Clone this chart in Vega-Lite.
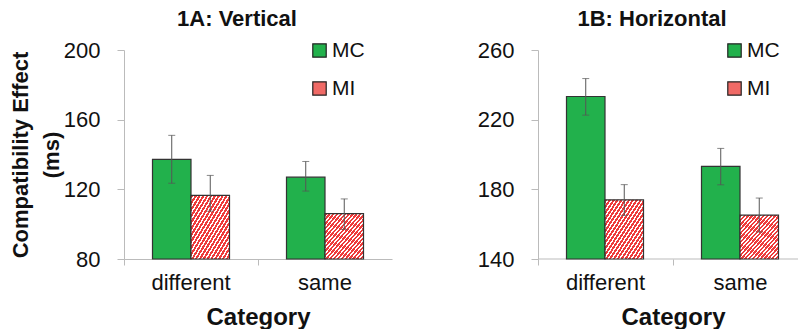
{
  "$schema": "https://vega.github.io/schema/vega-lite/v6.json",
  "config": {
    "font": "Liberation Sans",
    "view": {"stroke": null},
    "axis": {"grid": false, "domainColor": "#bbbbbb", "tickColor": "#bbbbbb", "labelColor": "#111111", "titleColor": "#111111"},
    "legend": {"padding": 0}
  },
  "padding": {"left": 9, "top": 8, "right": 0, "bottom": 0},
  "spacing": 85,
  "resolve": {"legend": {"fill": "independent"}, "scale": {"y": "independent", "x": "independent"}},
  "hconcat": [
    {
      "width": 268,
      "height": 209,
      "title": {"text": "1A: Vertical", "fontSize": 22, "fontWeight": "bold", "color": "#111111", "dx": -21, "offset": 8},
      "data": {"values": [
        {"category": "different", "cond": "MC", "value": 137.2, "lo": 123.5, "hi": 151},
        {"category": "different", "cond": "MI", "value": 116.5, "lo": 107.5, "hi": 128},
        {"category": "same", "cond": "MC", "value": 127, "lo": 119, "hi": 136},
        {"category": "same", "cond": "MI", "value": 106, "lo": 97, "hi": 114.5}
      ]},
      "layer": [
        {
          "mark": {"type": "bar", "stroke": "#333333", "strokeWidth": 1.2},
          "encoding": {
            "x": {"field": "category", "type": "nominal", "sort": ["different", "same"], "scale": {"paddingInner": 0, "paddingOuter": 0},
              "axis": {"title": "Category", "titleFontSize": 24, "titleFontWeight": "bold", "labelFontSize": 22, "labelAngle": 0, "bandPosition": 0, "tickSize": 6, "labelPadding": 7, "titlePadding": 12}},
            "xOffset": {"field": "cond", "type": "nominal", "sort": ["MC", "MI"], "scale": {"paddingInner": 0, "paddingOuter": 0.74}},
            "y": {"field": "value", "type": "quantitative", "scale": {"domain": [80, 200], "zero": false},
              "axis": {"values": [80, 120, 160, 200], "title": ["Compatibility Effect", "(ms)"], "titleFontSize": 22, "titleFontWeight": "bold", "titleLineHeight": 31, "labelFontSize": 22, "tickSize": 7, "labelPadding": 17, "titlePadding": 0}},
            "y2": {"datum": 80},
            "fill": {"field": "cond", "type": "nominal", "sort": ["MC", "MI"],
              "scale": {"domain": ["MC", "MI"], "range": ["#22b14c", "#f06a66"]},
              "condition": {"test": "datum.cond === 'MI'", "value": {"gradient": "linear", "x1": 0, "y1": 0, "x2": 1, "y2": 1, "stops": [
                {"offset": 0, "color": "#ee3b3b"}, {"offset": 0.03, "color": "#ee3b3b"}, {"offset": 0.03, "color": "#ffffff"}, {"offset": 0.05, "color": "#ffffff"},
                {"offset": 0.05, "color": "#ee3b3b"}, {"offset": 0.08, "color": "#ee3b3b"}, {"offset": 0.08, "color": "#ffffff"}, {"offset": 0.1, "color": "#ffffff"},
                {"offset": 0.1, "color": "#ee3b3b"}, {"offset": 0.13, "color": "#ee3b3b"}, {"offset": 0.13, "color": "#ffffff"}, {"offset": 0.15, "color": "#ffffff"},
                {"offset": 0.15, "color": "#ee3b3b"}, {"offset": 0.18, "color": "#ee3b3b"}, {"offset": 0.18, "color": "#ffffff"}, {"offset": 0.2, "color": "#ffffff"},
                {"offset": 0.2, "color": "#ee3b3b"}, {"offset": 0.23, "color": "#ee3b3b"}, {"offset": 0.23, "color": "#ffffff"}, {"offset": 0.25, "color": "#ffffff"},
                {"offset": 0.25, "color": "#ee3b3b"}, {"offset": 0.28, "color": "#ee3b3b"}, {"offset": 0.28, "color": "#ffffff"}, {"offset": 0.3, "color": "#ffffff"},
                {"offset": 0.3, "color": "#ee3b3b"}, {"offset": 0.33, "color": "#ee3b3b"}, {"offset": 0.33, "color": "#ffffff"}, {"offset": 0.35, "color": "#ffffff"},
                {"offset": 0.35, "color": "#ee3b3b"}, {"offset": 0.38, "color": "#ee3b3b"}, {"offset": 0.38, "color": "#ffffff"}, {"offset": 0.4, "color": "#ffffff"},
                {"offset": 0.4, "color": "#ee3b3b"}, {"offset": 0.43, "color": "#ee3b3b"}, {"offset": 0.43, "color": "#ffffff"}, {"offset": 0.45, "color": "#ffffff"},
                {"offset": 0.45, "color": "#ee3b3b"}, {"offset": 0.48, "color": "#ee3b3b"}, {"offset": 0.48, "color": "#ffffff"}, {"offset": 0.5, "color": "#ffffff"},
                {"offset": 0.5, "color": "#ee3b3b"}, {"offset": 0.53, "color": "#ee3b3b"}, {"offset": 0.53, "color": "#ffffff"}, {"offset": 0.55, "color": "#ffffff"},
                {"offset": 0.55, "color": "#ee3b3b"}, {"offset": 0.58, "color": "#ee3b3b"}, {"offset": 0.58, "color": "#ffffff"}, {"offset": 0.6, "color": "#ffffff"},
                {"offset": 0.6, "color": "#ee3b3b"}, {"offset": 0.63, "color": "#ee3b3b"}, {"offset": 0.63, "color": "#ffffff"}, {"offset": 0.65, "color": "#ffffff"},
                {"offset": 0.65, "color": "#ee3b3b"}, {"offset": 0.68, "color": "#ee3b3b"}, {"offset": 0.68, "color": "#ffffff"}, {"offset": 0.7, "color": "#ffffff"},
                {"offset": 0.7, "color": "#ee3b3b"}, {"offset": 0.73, "color": "#ee3b3b"}, {"offset": 0.73, "color": "#ffffff"}, {"offset": 0.75, "color": "#ffffff"},
                {"offset": 0.75, "color": "#ee3b3b"}, {"offset": 0.78, "color": "#ee3b3b"}, {"offset": 0.78, "color": "#ffffff"}, {"offset": 0.8, "color": "#ffffff"},
                {"offset": 0.8, "color": "#ee3b3b"}, {"offset": 0.83, "color": "#ee3b3b"}, {"offset": 0.83, "color": "#ffffff"}, {"offset": 0.85, "color": "#ffffff"},
                {"offset": 0.85, "color": "#ee3b3b"}, {"offset": 0.88, "color": "#ee3b3b"}, {"offset": 0.88, "color": "#ffffff"}, {"offset": 0.9, "color": "#ffffff"},
                {"offset": 0.9, "color": "#ee3b3b"}, {"offset": 0.93, "color": "#ee3b3b"}, {"offset": 0.93, "color": "#ffffff"}, {"offset": 0.95, "color": "#ffffff"},
                {"offset": 0.95, "color": "#ee3b3b"}, {"offset": 0.98, "color": "#ee3b3b"}, {"offset": 0.98, "color": "#ffffff"}, {"offset": 1, "color": "#ffffff"}
              ]}},
              "legend": {"title": null, "orient": "none", "legendX": 185, "legendY": -10, "symbolType": "square", "symbolSize": 180, "symbolStrokeColor": "#222222", "symbolStrokeWidth": 1.2, "symbolOpacity": 1, "labelFontSize": 21, "labelColor": "#111111", "rowPadding": 16, "labelOffset": 2}
            }
          }
        },
        {
          "mark": {"type": "rule", "color": "#555555", "strokeWidth": 1},
          "encoding": {
            "x": {"field": "category", "type": "nominal", "sort": ["different", "same"]},
            "xOffset": {"field": "cond", "type": "nominal", "sort": ["MC", "MI"]},
            "y": {"field": "lo", "type": "quantitative", "scale": {"domain": [80, 200], "zero": false}},
            "y2": {"field": "hi"}
          }
        },
        {
          "mark": {"type": "tick", "color": "#555555", "size": 7, "thickness": 1},
          "encoding": {
            "x": {"field": "category", "type": "nominal", "sort": ["different", "same"]},
            "xOffset": {"field": "cond", "type": "nominal", "sort": ["MC", "MI"]},
            "y": {"field": "lo", "type": "quantitative", "scale": {"domain": [80, 200], "zero": false}}
          }
        },
        {
          "mark": {"type": "tick", "color": "#555555", "size": 7, "thickness": 1},
          "encoding": {
            "x": {"field": "category", "type": "nominal", "sort": ["different", "same"]},
            "xOffset": {"field": "cond", "type": "nominal", "sort": ["MC", "MI"]},
            "y": {"field": "hi", "type": "quantitative", "scale": {"domain": [80, 200], "zero": false}}
          }
        }
      ]
    },
    {
      "width": 260,
      "height": 209,
      "title": {"text": "1B: Horizontal", "fontSize": 22, "fontWeight": "bold", "color": "#111111", "dx": -16, "offset": 8},
      "data": {"values": [
        {"category": "different", "cond": "MC", "value": 233.3, "lo": 222.6, "hi": 243.6},
        {"category": "different", "cond": "MI", "value": 174, "lo": 165, "hi": 182.7},
        {"category": "same", "cond": "MC", "value": 193.2, "lo": 182.6, "hi": 203.5},
        {"category": "same", "cond": "MI", "value": 165.2, "lo": 155.5, "hi": 175}
      ]},
      "layer": [
        {
          "data": {"values": [{"base": 140}]},
          "mark": {"type": "rule", "color": "#bbbbbb", "strokeWidth": 1},
          "encoding": {
            "y": {"field": "base", "type": "quantitative", "scale": {"domain": [140, 260], "zero": false}}
          }
        },
        {
          "mark": {"type": "bar", "stroke": "#333333", "strokeWidth": 1.2},
          "encoding": {
            "x": {"field": "category", "type": "nominal", "sort": ["different", "same"], "scale": {"paddingInner": 0, "paddingOuter": 0, "range": [0, 270]},
              "axis": {"title": "Category", "titleFontSize": 24, "titleFontWeight": "bold", "labelFontSize": 22, "labelAngle": 0, "bandPosition": 0, "tickSize": 6, "labelPadding": 7, "titlePadding": 12, "domain": false}},
            "xOffset": {"field": "cond", "type": "nominal", "sort": ["MC", "MI"], "scale": {"paddingInner": 0, "paddingOuter": 0.74}},
            "y": {"field": "value", "type": "quantitative", "scale": {"domain": [140, 260], "zero": false},
              "axis": {"values": [140, 180, 220, 260], "title": null, "labelFontSize": 22, "tickSize": 7, "labelPadding": 17}},
            "y2": {"datum": 140},
            "fill": {"field": "cond", "type": "nominal", "sort": ["MC", "MI"],
              "scale": {"domain": ["MC", "MI"], "range": ["#22b14c", "#f06a66"]},
              "condition": {"test": "datum.cond === 'MI'", "value": {"gradient": "linear", "x1": 0, "y1": 0, "x2": 1, "y2": 1, "stops": [
                {"offset": 0, "color": "#ee3b3b"}, {"offset": 0.03, "color": "#ee3b3b"}, {"offset": 0.03, "color": "#ffffff"}, {"offset": 0.05, "color": "#ffffff"},
                {"offset": 0.05, "color": "#ee3b3b"}, {"offset": 0.08, "color": "#ee3b3b"}, {"offset": 0.08, "color": "#ffffff"}, {"offset": 0.1, "color": "#ffffff"},
                {"offset": 0.1, "color": "#ee3b3b"}, {"offset": 0.13, "color": "#ee3b3b"}, {"offset": 0.13, "color": "#ffffff"}, {"offset": 0.15, "color": "#ffffff"},
                {"offset": 0.15, "color": "#ee3b3b"}, {"offset": 0.18, "color": "#ee3b3b"}, {"offset": 0.18, "color": "#ffffff"}, {"offset": 0.2, "color": "#ffffff"},
                {"offset": 0.2, "color": "#ee3b3b"}, {"offset": 0.23, "color": "#ee3b3b"}, {"offset": 0.23, "color": "#ffffff"}, {"offset": 0.25, "color": "#ffffff"},
                {"offset": 0.25, "color": "#ee3b3b"}, {"offset": 0.28, "color": "#ee3b3b"}, {"offset": 0.28, "color": "#ffffff"}, {"offset": 0.3, "color": "#ffffff"},
                {"offset": 0.3, "color": "#ee3b3b"}, {"offset": 0.33, "color": "#ee3b3b"}, {"offset": 0.33, "color": "#ffffff"}, {"offset": 0.35, "color": "#ffffff"},
                {"offset": 0.35, "color": "#ee3b3b"}, {"offset": 0.38, "color": "#ee3b3b"}, {"offset": 0.38, "color": "#ffffff"}, {"offset": 0.4, "color": "#ffffff"},
                {"offset": 0.4, "color": "#ee3b3b"}, {"offset": 0.43, "color": "#ee3b3b"}, {"offset": 0.43, "color": "#ffffff"}, {"offset": 0.45, "color": "#ffffff"},
                {"offset": 0.45, "color": "#ee3b3b"}, {"offset": 0.48, "color": "#ee3b3b"}, {"offset": 0.48, "color": "#ffffff"}, {"offset": 0.5, "color": "#ffffff"},
                {"offset": 0.5, "color": "#ee3b3b"}, {"offset": 0.53, "color": "#ee3b3b"}, {"offset": 0.53, "color": "#ffffff"}, {"offset": 0.55, "color": "#ffffff"},
                {"offset": 0.55, "color": "#ee3b3b"}, {"offset": 0.58, "color": "#ee3b3b"}, {"offset": 0.58, "color": "#ffffff"}, {"offset": 0.6, "color": "#ffffff"},
                {"offset": 0.6, "color": "#ee3b3b"}, {"offset": 0.63, "color": "#ee3b3b"}, {"offset": 0.63, "color": "#ffffff"}, {"offset": 0.65, "color": "#ffffff"},
                {"offset": 0.65, "color": "#ee3b3b"}, {"offset": 0.68, "color": "#ee3b3b"}, {"offset": 0.68, "color": "#ffffff"}, {"offset": 0.7, "color": "#ffffff"},
                {"offset": 0.7, "color": "#ee3b3b"}, {"offset": 0.73, "color": "#ee3b3b"}, {"offset": 0.73, "color": "#ffffff"}, {"offset": 0.75, "color": "#ffffff"},
                {"offset": 0.75, "color": "#ee3b3b"}, {"offset": 0.78, "color": "#ee3b3b"}, {"offset": 0.78, "color": "#ffffff"}, {"offset": 0.8, "color": "#ffffff"},
                {"offset": 0.8, "color": "#ee3b3b"}, {"offset": 0.83, "color": "#ee3b3b"}, {"offset": 0.83, "color": "#ffffff"}, {"offset": 0.85, "color": "#ffffff"},
                {"offset": 0.85, "color": "#ee3b3b"}, {"offset": 0.88, "color": "#ee3b3b"}, {"offset": 0.88, "color": "#ffffff"}, {"offset": 0.9, "color": "#ffffff"},
                {"offset": 0.9, "color": "#ee3b3b"}, {"offset": 0.93, "color": "#ee3b3b"}, {"offset": 0.93, "color": "#ffffff"}, {"offset": 0.95, "color": "#ffffff"},
                {"offset": 0.95, "color": "#ee3b3b"}, {"offset": 0.98, "color": "#ee3b3b"}, {"offset": 0.98, "color": "#ffffff"}, {"offset": 1, "color": "#ffffff"}
              ]}},
              "legend": {"title": null, "orient": "none", "legendX": 186, "legendY": -10, "symbolType": "square", "symbolSize": 180, "symbolStrokeColor": "#222222", "symbolStrokeWidth": 1.2, "symbolOpacity": 1, "labelFontSize": 21, "labelColor": "#111111", "rowPadding": 16, "labelOffset": 2}
            }
          }
        },
        {
          "mark": {"type": "rule", "color": "#555555", "strokeWidth": 1},
          "encoding": {
            "x": {"field": "category", "type": "nominal", "sort": ["different", "same"]},
            "xOffset": {"field": "cond", "type": "nominal", "sort": ["MC", "MI"]},
            "y": {"field": "lo", "type": "quantitative", "scale": {"domain": [140, 260], "zero": false}},
            "y2": {"field": "hi"}
          }
        },
        {
          "mark": {"type": "tick", "color": "#555555", "size": 7, "thickness": 1},
          "encoding": {
            "x": {"field": "category", "type": "nominal", "sort": ["different", "same"]},
            "xOffset": {"field": "cond", "type": "nominal", "sort": ["MC", "MI"]},
            "y": {"field": "lo", "type": "quantitative", "scale": {"domain": [140, 260], "zero": false}}
          }
        },
        {
          "mark": {"type": "tick", "color": "#555555", "size": 7, "thickness": 1},
          "encoding": {
            "x": {"field": "category", "type": "nominal", "sort": ["different", "same"]},
            "xOffset": {"field": "cond", "type": "nominal", "sort": ["MC", "MI"]},
            "y": {"field": "hi", "type": "quantitative", "scale": {"domain": [140, 260], "zero": false}}
          }
        }
      ]
    }
  ]
}
